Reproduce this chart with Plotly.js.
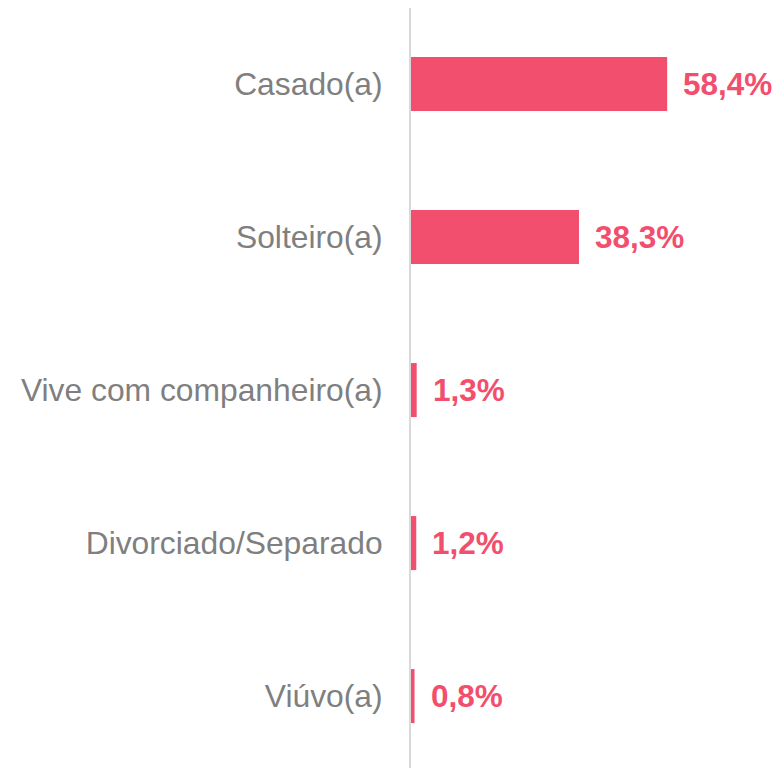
<!DOCTYPE html>
<html><head><meta charset="utf-8">
<script src="https://cdn.plot.ly/plotly-3.0.1.min.js"></script>
<style>html,body{margin:0;padding:0;background:#fff;}#c{width:779px;height:768px;}</style>
</head><body><div id="c"></div>
<script>
const categories = ["Casado(a)", "Solteiro(a)", "Vive com companheiro(a)", "Divorciado/Separado", "Viúvo(a)"];
const values = [58.4, 38.3, 1.3, 1.2, 0.8];
const valueLabels = ["58,4%", "38,3%", "1,3%", "1,2%", "0,8%"];

const pink = "#F24E6E";
const FONT = "'Liberation Sans', Arial, sans-serif";
const trace = {
  type: "bar", orientation: "h",
  x: values, y: categories,
  width: 0.353,
  marker: {color: pink, line: {width: 0}},
  hoverinfo: "none"
};
const annotations = categories.map((c, i) => ({
  x: values[i], y: c, xref: "x", yref: "y",
  text: "<b>" + valueLabels[i] + "</b>", showarrow: false,
  xanchor: "left", yanchor: "middle", xshift: 14,
  font: {family: FONT, size: 31.5, color: pink}
}));
const layout = {
  width: 779, height: 768,
  margin: {l: 411, r: 0, t: 8, b: 0},
  paper_bgcolor: "#fff", plot_bgcolor: "#fff",
  showlegend: false,
  font: {family: FONT},
  xaxis: {range: [0, 83.9], visible: false, fixedrange: true},
  yaxis: {
    type: "category", categoryorder: "array", categoryarray: categories,
    range: [4.47, -0.497],
    showline: true, linecolor: "#D9D9D9", linewidth: 2,
    showgrid: false, zeroline: false, ticks: "", ticklabelstandoff: 20,
    tickfont: {family: FONT, size: 31.8, color: "#7F7F7F"}
  },
  annotations: annotations
};
Plotly.newPlot("c", [trace], layout, {staticPlot: true, displayModeBar: false});
</script></body></html>
